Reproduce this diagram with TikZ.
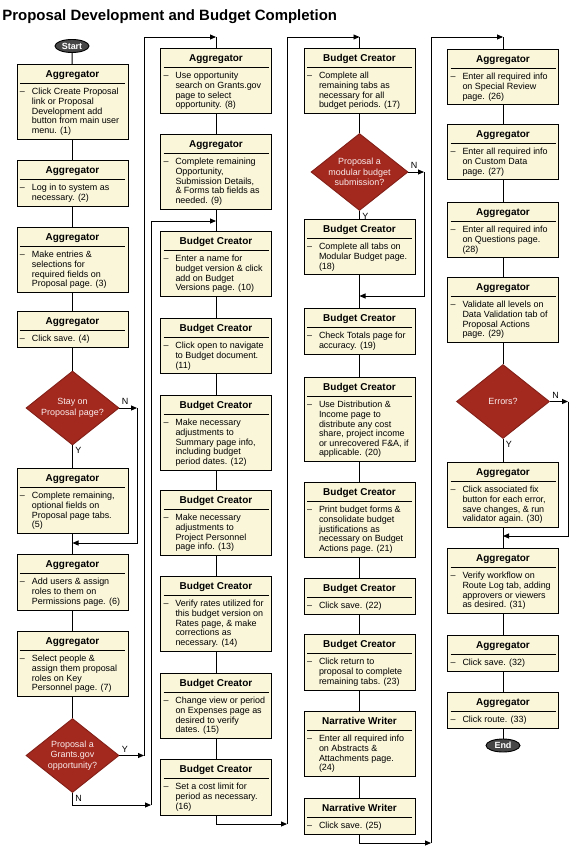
\documentclass[tikz,border=0pt]{standalone}
\usepackage{fontspec}
\setmainfont{Liberation Sans}
\usetikzlibrary{shapes.geometric,arrows.meta}

\definecolor{notecream}{RGB}{250,246,218}
\definecolor{decisionred}{RGB}{163,40,30}
\definecolor{termgray}{RGB}{70,70,70}
\definecolor{decisiontext}{RGB}{250,236,236}

\newcommand{\headfont}{\fontsize{10}{12}\selectfont\bfseries}
\newcommand{\bodyfont}{\fontsize{9}{9.6}\selectfont}
\newcommand{\actbox}[2]{\vbox{\hsize=105bp
  \hbox to\hsize{\hss\headfont\rule{0pt}{10.5bp}\smash{#1}\hss}%
  \kern5.5bp\hrule height0.6bp\kern4.2bp
  \hbox{\bodyfont\makebox[12bp][l]{–}\begin{tabular}[t]{@{}l@{}}#2\end{tabular}}}}

\begin{document}
\begin{tikzpicture}[x=1bp, y=-1bp, line width=0.9bp, >={Triangle[length=6bp,width=5bp]}]

    \tikzset{block/.style={%
      draw,%
      rectangle,%
      fill=notecream,%
      inner xsep=3bp,%
      inner ysep=3bp,%
      anchor=north}%
    };

    \tikzset{decision/.style={diamond, draw=decisionred!80!black, fill=decisionred,
      shape aspect=1.26, minimum width=93bp, minimum height=74bp, inner sep=0pt,
      align=center, text=decisiontext, font=\fontsize{9}{10.5}\selectfont}};
    \tikzset{term/.style={ellipse, draw, fill=termgray, minimum width=34bp,
      minimum height=13bp, inner sep=0pt, text=white, font=\fontsize{9}{10}\selectfont\bfseries}};
    \tikzset{yn/.style={inner sep=0pt, font=\fontsize{9}{10}\selectfont}};

    \useasboundingbox (0,0) rectangle (577,853);

    \node [anchor=base west, inner sep=0pt, font=\fontsize{15}{18}\selectfont\bfseries] (ttl)
      at (2,20.7) {Proposal Development and Budget Completion};

    %%%%%%%%%%%%%%%
    %  column 1   %
    %%%%%%%%%%%%%%%
    \node [term] (beg) at (72,46) {Start};
    \node [block] (crt) at (72.5,64) {\actbox{Aggregator}{Click Create Proposal\\link or Proposal\\Development add\\button from main user\\menu. (1)}};
    \node [block] (lgn) at (72.5,160) {\actbox{Aggregator}{Log in to system as\\necessary. (2)}};
    \node [block] (ent) at (72.5,227) {\actbox{Aggregator}{Make entries \&\\selections for\\required fields on\\Proposal page. (3)}};
    \node [block] (sv1) at (72.5,311) {\actbox{Aggregator}{Click save. (4)}};
    \node [decision] (stay) at (72.5,408) {Stay on\\Proposal page?};
    \node [block] (rem) at (72.5,468) {\actbox{Aggregator}{Complete remaining,\\optional fields on\\Proposal page tabs.\\(5)}};
    \node [block] (usr) at (72.5,554) {\actbox{Aggregator}{Add users \& assign\\roles to them on\\Permissions page. (6)}};
    \node [block] (ppl) at (72.5,631) {\actbox{Aggregator}{Select people \&\\assign them proposal\\roles on Key\\Personnel page. (7)}};
    \node [decision] (ggv) at (72.5,755.5) {Proposal a\\Grants.gov\\opportunity?};

    \coordinate (nstay) at (137,408);
    \coordinate (jstay) at (72.5,543);
    \coordinate (yggv) at (144,755.5);
    \coordinate (nggv) at (151,805);

    %%%%%%%%%%%%%%%
    %  column 2   %
    %%%%%%%%%%%%%%%
    \node [block] (opp) at (216,48) {\actbox{Aggregator}{Use opportunity\\search on Grants.gov\\page to select\\opportunity. (8)}};
    \node [block] (frm) at (216,134) {\actbox{Aggregator}{Complete remaining\\Opportunity,\\Submission Details,\\\& Forms tab fields as\\needed. (9)}};
    \node [block] (bnm) at (216,231) {\actbox{Budget Creator}{Enter a name for\\budget version \& click\\add on Budget\\Versions page. (10)}};
    \node [block] (opn) at (216,318) {\actbox{Budget Creator}{Click open to navigate\\to Budget document.\\(11)}};
    \node [block] (smr) at (216,395) {\actbox{Budget Creator}{Make necessary\\adjustments to\\Summary page info,\\including budget\\period dates. (12)}};
    \node [block] (prs) at (216,490) {\actbox{Budget Creator}{Make necessary\\adjustments to\\Project Personnel\\page info. (13)}};
    \node [block] (rts) at (216,576) {\actbox{Budget Creator}{Verify rates utilized for\\this budget version on\\Rates page, \& make\\corrections as\\necessary. (14)}};
    \node [block] (exp) at (216,673) {\actbox{Budget Creator}{Change view or period\\on Expenses page as\\desired to verify\\dates. (15)}};
    \node [block] (cst) at (216,759) {\actbox{Budget Creator}{Set a cost limit for\\period as necessary.\\(16)}};

    \coordinate (topopp) at (216,37);
    \coordinate (jbnm) at (216,221);
    \coordinate (ccst) at (287,824);

    %%%%%%%%%%%%%%%
    %  column 3   %
    %%%%%%%%%%%%%%%
    \node [block] (tbs) at (359.5,48) {\actbox{Budget Creator}{Complete all\\remaining tabs as\\necessary for all\\budget periods. (17)}};
    \node [decision] (mod) at (359.5,172) {Proposal a\\modular budget\\submission?};
    \node [block] (mdb) at (359.5,219) {\actbox{Budget Creator}{Complete all tabs on\\Modular Budget page.\\(18)}};
    \node [block] (tot) at (359.5,308) {\actbox{Budget Creator}{Check Totals page for\\accuracy. (19)}};
    \node [block] (dst) at (359.5,377) {\actbox{Budget Creator}{Use Distribution \&\\Income page to\\distribute any cost\\share, project income\\or unrecovered F\&A, if\\applicable. (20)}};
    \node [block] (prt) at (359.5,482) {\actbox{Budget Creator}{Print budget forms \&\\consolidate budget\\justifications as\\necessary on Budget\\Actions page. (21)}};
    \node [block] (sv2) at (359.5,578) {\actbox{Budget Creator}{Click save. (22)}};
    \node [block] (ret) at (359.5,634) {\actbox{Budget Creator}{Click return to\\proposal to complete\\remaining tabs. (23)}};
    \node [block] (abs) at (359.5,711) {\actbox{Narrative Writer}{Enter all required info\\on Abstracts \&\\Attachments page.\\(24)}};
    \node [block] (sv3) at (359.5,798) {\actbox{Narrative Writer}{Click save. (25)}};

    \coordinate (toptbs) at (359.5,37);
    \coordinate (nmod) at (424,172);
    \coordinate (jmod) at (359.5,296);
    \coordinate (csv3) at (431,843);

    %%%%%%%%%%%%%%%
    %  column 4   %
    %%%%%%%%%%%%%%%
    \node [block] (spr) at (503,49) {\actbox{Aggregator}{Enter all required info\\on Special Review\\page. (26)}};
    \node [block] (cdt) at (503,124) {\actbox{Aggregator}{Enter all required info\\on Custom Data\\page. (27)}};
    \node [block] (qst) at (503,202) {\actbox{Aggregator}{Enter all required info\\on Questions page.\\(28)}};
    \node [block] (vld) at (503,277) {\actbox{Aggregator}{Validate all levels on\\Data Validation tab of\\Proposal Actions\\page. (29)}};
    \node [decision] (err) at (503,401.5) {Errors?};
    \node [block] (fix) at (503,462) {\actbox{Aggregator}{Click associated fix\\button for each error,\\save changes, \& run\\validator again. (30)}};
    \node [block] (wfl) at (503,548) {\actbox{Aggregator}{Verify workflow on\\Route Log tab, adding\\approvers or viewers\\as desired. (31)}};
    \node [block] (sv4) at (503,635) {\actbox{Aggregator}{Click save. (32)}};
    \node [block] (rte) at (503,692) {\actbox{Aggregator}{Click route. (33)}};
    \node [term] (fin) at (503,745.5) {End};

    \coordinate (topspr) at (503,37);
    \coordinate (nerr) at (568,401.5);
    \coordinate (jerr) at (503,536);

    % straight flow
    \draw (beg) -- (crt);  \draw (crt) -- (lgn);  \draw (lgn) -- (ent);
    \draw (ent) -- (sv1);  \draw (sv1) -- (stay); \draw (stay) -- (rem);
    \draw (rem) -- (usr);  \draw (usr) -- (ppl);  \draw (ppl) -- (ggv);
    \draw (opp) -- (frm);  \draw (frm) -- (bnm);  \draw (bnm) -- (opn);
    \draw (opn) -- (smr);  \draw (smr) -- (prs);  \draw (prs) -- (rts);
    \draw (rts) -- (exp);  \draw (exp) -- (cst);
    \draw (tbs) -- (mod);  \draw (mod) -- (mdb);  \draw (mdb) -- (tot);
    \draw (tot) -- (dst);  \draw (dst) -- (prt);  \draw (prt) -- (sv2);
    \draw (sv2) -- (ret);  \draw (ret) -- (abs);  \draw (abs) -- (sv3);
    \draw (spr) -- (cdt);  \draw (cdt) -- (qst);  \draw (qst) -- (vld);
    \draw (vld) -- (err);  \draw (err) -- (fix);  \draw (fix) -- (wfl);
    \draw (wfl) -- (sv4);  \draw (sv4) -- (rte);  \draw (rte) -- (fin);

    % branches
    \draw [->] (stay) -- (nstay);
    \draw [->] (nstay) |- (jstay);
    \draw [->] (ggv) -- (yggv);
    \draw [->] (yggv) |- (topopp);
    \draw (topopp) -- (opp);
    \draw [->] (ggv) |- (nggv);
    \draw [->] (nggv) |- (jbnm);
    \draw [->] (cst) |- (ccst);
    \draw [->] (ccst) |- (toptbs);
    \draw (toptbs) -- (tbs);
    \draw [->] (mod) -- (nmod);
    \draw [->] (nmod) |- (jmod);
    \draw [->] (sv3) |- (csv3);
    \draw [->] (csv3) |- (topspr);
    \draw (topspr) -- (spr);
    \draw [->] (err) -- (nerr);
    \draw [->] (nerr) |- (jerr);

    % Y / N labels
    \node [yn, anchor=south west] (lstayn) at ([xshift=2bp, yshift=3bp]stay.east) {N};
    \node [yn, anchor=north west] (lstayy) at ([xshift=2.5bp, yshift=-1.5bp]stay.south) {Y};
    \node [yn, anchor=south west] (lggvy) at ([xshift=2bp, yshift=3bp]ggv.east) {Y};
    \node [yn, anchor=north west] (lggvn) at ([xshift=2.5bp, yshift=-1.5bp]ggv.south) {N};
    \node [yn, anchor=south west] (lmodn) at ([xshift=2bp, yshift=3bp]mod.east) {N};
    \node [yn, anchor=north west] (lmody) at ([xshift=2.5bp, yshift=-1.5bp]mod.south) {Y};
    \node [yn, anchor=south west] (lerrn) at ([xshift=2bp, yshift=3bp]err.east) {N};
    \node [yn, anchor=north west] (lerry) at ([xshift=2.5bp, yshift=-1.5bp]err.south) {Y};

  \end{tikzpicture}
\end{document}
